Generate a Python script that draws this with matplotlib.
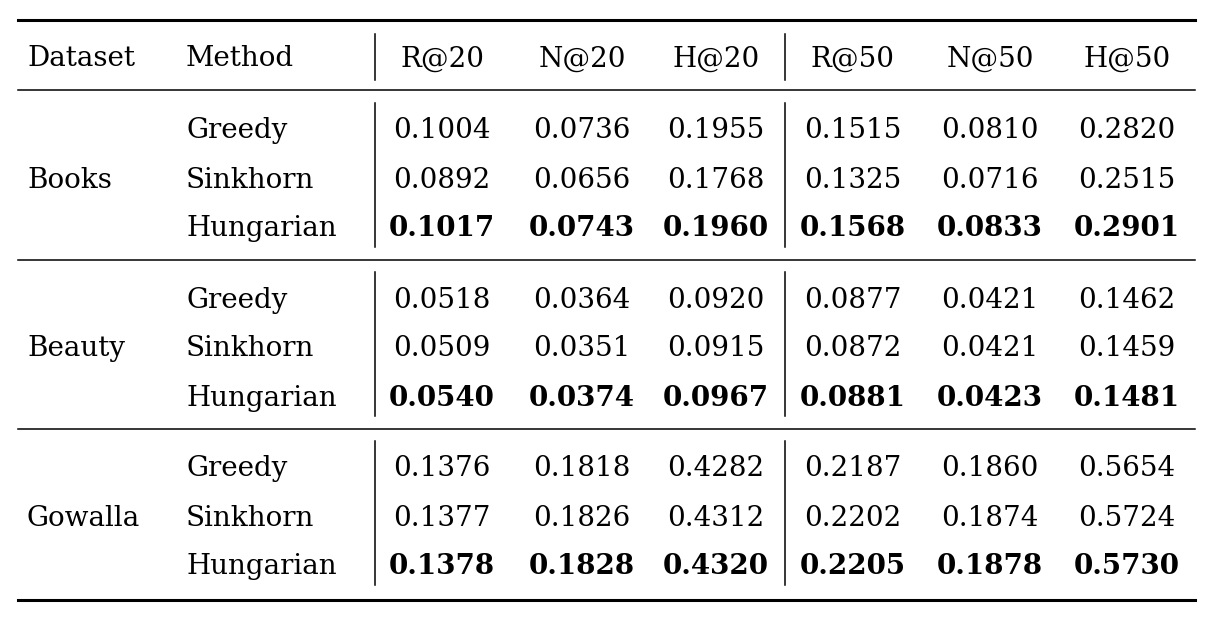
import matplotlib
matplotlib.use("Agg")
import matplotlib.pyplot as plt

datasets = ["Books", "Beauty", "Gowalla"]
methods = ["Greedy", "Sinkhorn", "Hungarian"]
metrics = ["R@20", "N@20", "H@20", "R@50", "N@50", "H@50"]
values = {
    "Books": [[0.1004, 0.0736, 0.1955, 0.1515, 0.0810, 0.2820],
              [0.0892, 0.0656, 0.1768, 0.1325, 0.0716, 0.2515],
              [0.1017, 0.0743, 0.1960, 0.1568, 0.0833, 0.2901]],
    "Beauty": [[0.0518, 0.0364, 0.0920, 0.0877, 0.0421, 0.1462],
               [0.0509, 0.0351, 0.0915, 0.0872, 0.0421, 0.1459],
               [0.0540, 0.0374, 0.0967, 0.0881, 0.0423, 0.1481]],
    "Gowalla": [[0.1376, 0.1818, 0.4282, 0.2187, 0.1860, 0.5654],
                [0.1377, 0.1826, 0.4312, 0.2202, 0.1874, 0.5724],
                [0.1378, 0.1828, 0.4320, 0.2205, 0.1878, 0.5730]],
}

plt.rcParams["font.family"] = ["DejaVu Serif"]
fig = plt.figure(figsize=(12.1, 6.25), dpi=100)
ax = fig.add_axes([0, 0, 1, 1])
ax.set_xlim(0, 1210)
ax.set_ylim(625, 0)
ax.axis("off")

fs = 20
col_x = [442, 582, 716, 853, 990, 1127]
x0, x1 = 18, 1195

ax.plot([x0, x1], [20, 20], color="black", lw=2.2)
ax.plot([x0, x1], [90, 90], color="black", lw=1.1)
ax.plot([x0, x1], [600, 600], color="black", lw=2.2)

def vlines(y_top, y_bot):
    for vx in (375, 785):
        ax.plot([vx, vx], [y_top, y_bot], color="black", lw=1.1)

hy = 56
ax.text(27, hy, "Dataset", fontsize=fs, va="center_baseline", ha="left")
ax.text(186, hy, "Method", fontsize=fs, va="center_baseline", ha="left")
for cx, m in zip(col_x, metrics):
    ax.text(cx, hy, m, fontsize=fs, va="center_baseline", ha="center")
vlines(34, 80)

for b, ds in enumerate(datasets):
    base = 128 + b * 169
    ys = [base, base + 49, base + 98]
    ax.text(27, ys[1], ds, fontsize=fs, va="center_baseline", ha="left")
    for r, meth in enumerate(methods):
        ax.text(186, ys[r], meth, fontsize=fs, va="center_baseline", ha="left")
        bold = r == 2
        for cx, v in zip(col_x, values[ds][r]):
            ax.text(cx, ys[r], f"{v:.4f}", fontsize=fs, va="center_baseline", ha="center",
                    fontweight="bold" if bold else "normal")
    vlines(base - 25, base + 119)
    if b < 2:
        ax.plot([x0, x1], [base + 132, base + 132], color="black", lw=1.1)

fig.savefig("out.png", dpi=100)
